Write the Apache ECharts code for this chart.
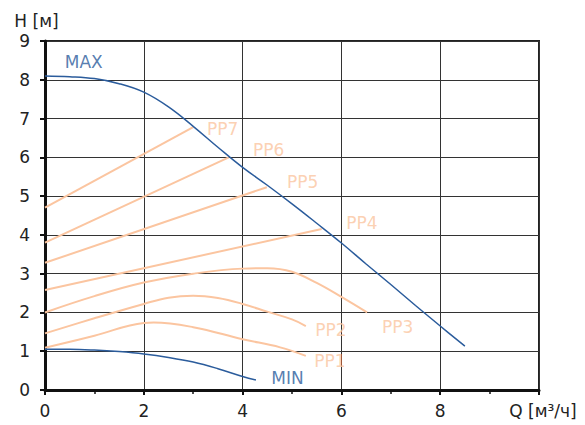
<!DOCTYPE html>
<html>
<head>
<meta charset="utf-8">
<script src="https://cdn.jsdelivr.net/npm/echarts@6/dist/echarts.min.js"></script>
<style>html,body{margin:0;padding:0;background:#fff}#c{width:585px;height:425px}</style>
</head>
<body>
<div id="c"></div>
<script>
var xTicks = [0, 2, 4, 6, 8];
var xAxisName = 'Q [м³/ч]';
var yAxisName = 'H [м]';

var maxCurve = [[0,8.1],[0.5,8.08],[1,8.03],[1.5,7.9],[2,7.68],[2.5,7.3],[3,6.8],[3.5,6.26],[4,5.74],[4.5,5.28],[5,4.8],[5.5,4.3],[6,3.79],[6.5,3.25],[7,2.72],[7.5,2.18],[8,1.65],[8.5,1.13]];
var minCurve = [[0,1.05],[0.5,1.05],[1,1.03],[1.5,0.99],[2,0.93],[2.5,0.84],[3,0.72],[3.5,0.55],[4,0.35],[4.27,0.26]];
var pp7 = [[0,4.7],[3.0,6.78]];
var pp6 = [[0,3.8],[3.72,6.0]];
var pp5 = [[0,3.28],[4.49,5.23]];
var pp4 = [[0,2.58],[5.6,4.15]];
var pp3 = [[0,2.0],[1,2.42],[2,2.77],[3,3.0],[4,3.13],[4.5,3.14],[5,3.05],[5.5,2.76],[6,2.4],[6.52,2.0]];
var pp2 = [[0,1.46],[1,1.85],[2,2.22],[2.5,2.38],[3,2.43],[3.5,2.37],[4,2.22],[4.5,2.02],[5,1.82],[5.28,1.65]];
var pp1 = [[0,1.09],[1,1.4],[2,1.73],[2.2,1.74],[3,1.62],[4,1.31],[4.76,1.1],[5.28,0.88]];

var ppNames = ['PP1','PP2','PP3','PP4','PP5','PP6','PP7'];
var ppLabelPos = [[5.45,0.74],[5.47,1.55],[6.82,1.62],[6.1,4.3],[4.9,5.36],[4.21,6.2],[3.28,6.73]];
var curveNames = ['MAX','MIN'];
var curveLabelPos = [[0.4,8.45],[4.58,0.32]];

var PEACH = '#FBC5A0';
var BLUE = '#2B5C9C';
var FONT = 'DejaVu Sans';
var FS = 17;

var chart = echarts.init(document.getElementById('c'), null, {renderer: 'svg'});

function line(data, color, width, smooth) {
  return {type: 'line', data: data, showSymbol: false, symbol: 'none', smooth: smooth,
          lineStyle: {color: color, width: width}, silent: true, z: 3};
}
function labels(names, pos, color) {
  return {type: 'scatter', symbolSize: 0, silent: true, z: 4,
    data: names.map(function(n, i){ return {value: pos[i], name: n}; }),
    label: {show: true, position: [0, 0], align: 'left', verticalAlign: 'middle',
      formatter: '{b}', color: color, fontSize: FS, fontFamily: FONT}};
}

chart.setOption({
  animation: false,
  backgroundColor: '#fff',
  grid: {left: 45, right: 46, top: 41, bottom: 35, show: true, borderColor: '#222', borderWidth: 2, backgroundColor: 'transparent'},
  xAxis: {
    type: 'value', min: 0, max: 10, interval: 2,
    axisLine: {show: true, onZero: false, lineStyle: {color: '#111', width: 3}},
    axisTick: {show: true, length: 5, lineStyle: {color: '#111', width: 2}},
    minorTick: {show: true, splitNumber: 2, length: 4, lineStyle: {color: '#111', width: 1.5}},
    splitLine: {show: true, lineStyle: {color: '#333', width: 1}},
    axisLabel: {color: '#222', fontSize: FS, fontFamily: FONT, margin: 12,
      rich: {q: {color: '#222', fontSize: FS, fontFamily: FONT, padding: [0, 0, 0, 8]}},
      formatter: function(v){ return xTicks.indexOf(v) >= 0 ? String(v) : (v === 10 ? '{q|' + xAxisName + '}' : ''); }}
  },
  yAxis: {
    type: 'value', min: 0, max: 9, interval: 1,
    name: yAxisName, nameLocation: 'end', nameGap: 12,
    nameTextStyle: {color: '#222', fontSize: FS, fontFamily: FONT, align: 'center', padding: [0, 17, 0, 0]},
    axisLine: {show: true, onZero: false, lineStyle: {color: '#111', width: 3}},
    axisTick: {show: true, length: 5, lineStyle: {color: '#111', width: 2}},
    splitLine: {show: true, lineStyle: {color: '#333', width: 1}},
    axisLabel: {color: '#222', fontSize: FS, fontFamily: FONT, margin: 15}
  },
  series: [
    line(pp7, PEACH, 2, false),
    line(pp6, PEACH, 2, false),
    line(pp5, PEACH, 2, false),
    line(pp4, PEACH, 2, false),
    line(pp3, PEACH, 2, 0.4),
    line(pp2, PEACH, 2, 0.4),
    line(pp1, PEACH, 2, 0.4),
    line(maxCurve, BLUE, 1.5, 0.4),
    line(minCurve, BLUE, 1.5, 0.4),
    labels(ppNames, ppLabelPos, PEACH),
    labels(curveNames, curveLabelPos, BLUE)
  ]
});
</script>
</body>
</html>
